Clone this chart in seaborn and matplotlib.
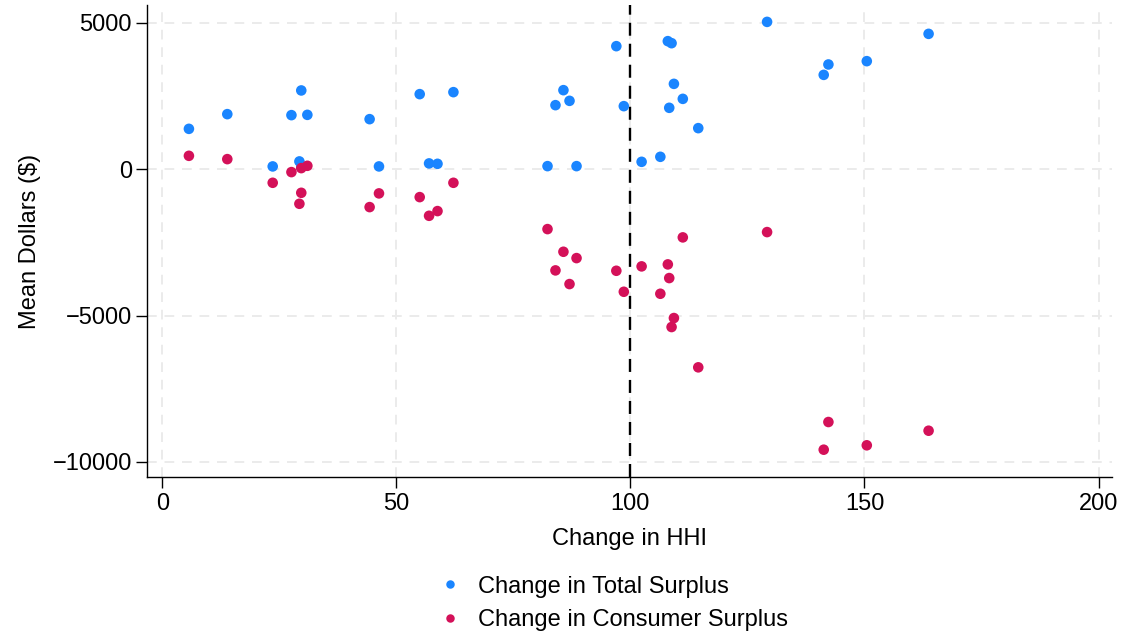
import matplotlib
matplotlib.use("Agg")
import matplotlib.pyplot as plt
import numpy as np
import pandas as pd
import seaborn as sns

# change in HHI for each merger (shared by both series)
hhi_change = [5.7, 13.9, 23.6, 27.6, 29.7, 29.3, 31.0, 29.7, 44.3, 46.3, 55.0, 57.0, 58.8, 62.2,
              82.3, 84.0, 85.7, 87.0, 88.5, 97.0, 98.6, 102.4, 106.4, 108.0, 108.3, 108.8, 109.3,
              111.2, 114.5, 129.2, 141.3, 142.3, 150.5, 163.7]
total_surplus = [1375, 1877, 92, 1843, 2686, 263, 1853, 60, 1706, 92, 2560, 195, 181, 2628,
                 102, 2184, 2696, 2331, 102, 4198, 2150, 249, 420, 4369, 2093, 4300, 2911,
                 2399, 1399, 5027, 3218, 3573, 3686, 4618]
consumer_surplus = [454, 341, -467, -102, -809, -1184, 113, 34, -1297, -829, -956, -1594, -1433, -467,
                    -2048, -3458, -2822, -3925, -3038, -3471, -4188, -3321, -4256, -3253, -3720, -5392, -5085,
                    -2331, -6768, -2150, -9580, -8635, -9430, -8932]

series_names = ["Change in Total Surplus", "Change in Consumer Surplus"]
colors = ["#1a85ff", "#d41159"]

df = pd.concat([
    pd.DataFrame({"hhi": hhi_change, "dollars": total_surplus}).assign(series=series_names[0]),
    pd.DataFrame({"hhi": hhi_change, "dollars": consumer_surplus}).assign(series=series_names[1]),
], ignore_index=True)

sns.set_style("white")
plt.rcParams['font.family'] = ['Liberation Sans', 'DejaVu Sans']
plt.rcParams['text.color'] = 'black'
plt.rcParams['axes.labelcolor'] = 'black'
plt.rcParams['xtick.color'] = 'black'
plt.rcParams['ytick.color'] = 'black'

fig = plt.figure(figsize=(11.24, 6.38), dpi=100)
ax = fig.add_axes([0.131, 0.252, 0.858, 0.74])

ax.grid(True, color="#ebebeb", linestyle=(0, (5, 4)), linewidth=1.4)
ax.set_axisbelow(True)

sns.scatterplot(data=df
                , x="hhi"
                , y="dollars"
                , hue="series"
                , palette=dict(zip(series_names, colors))
                , s=58
                , edgecolor="none"
                , ax=ax
                , zorder=3
                )

ax.axvline(100, color="black", linestyle=(0, (5.5, 3.4)), linewidth=1.7, zorder=2)

ax.set_xlim(-3.2, 202.8)
ax.set_ylim(-10520, 5600)
ax.set_xticks([0, 50, 100, 150, 200])
ax.set_yticks([5000, 0, -5000, -10000])
ax.set_yticklabels(["5000", "0", "\u22125000", "\u221210000"])
ax.tick_params(axis="both", labelsize=17, length=8, width=1, color="black", direction="out",
               bottom=True, left=True, pad=3)
ax.set_xlabel("Change in HHI", fontsize=17, labelpad=10)
ax.set_ylabel("Mean Dollars ($)", fontsize=17, labelpad=8)

for side in ["top", "right"]:
    ax.spines[side].set_visible(False)
for side in ["left", "bottom"]:
    ax.spines[side].set_color("black")
    ax.spines[side].set_linewidth(1)

handles, labels = ax.get_legend_handles_labels()
ax.legend_.remove()
fig.legend(handles, labels, loc="lower center", bbox_to_anchor=(0.54, -0.023), frameon=False,
           fontsize=17, markerscale=0.8, handletextpad=0.2, labelspacing=0.5)

fig.savefig("out.png", dpi=100)
